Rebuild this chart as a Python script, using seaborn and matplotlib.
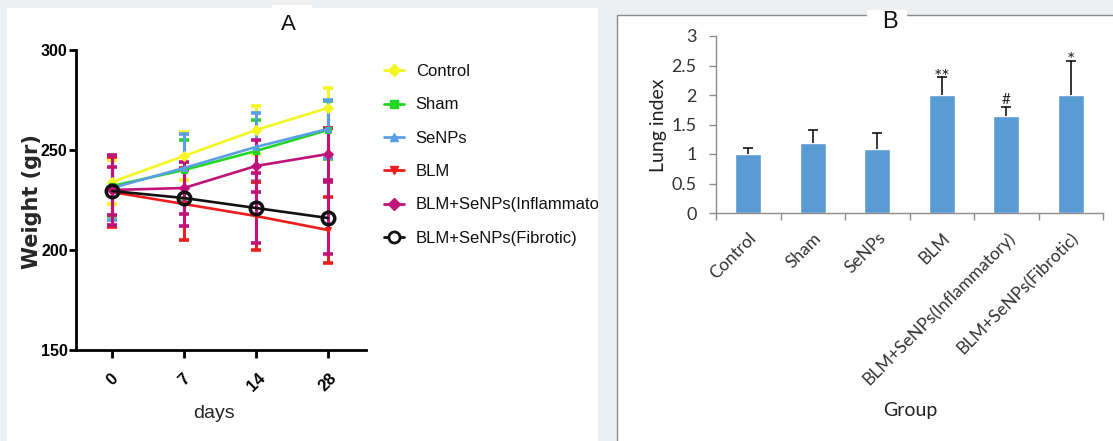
import numpy as np
import pandas as pd
import matplotlib
matplotlib.use("Agg")
import matplotlib.pyplot as plt
import seaborn as sns
from matplotlib.lines import Line2D
from matplotlib.patches import Rectangle
from matplotlib.transforms import Bbox, TransformedBbox, ScaledTranslation
from matplotlib import font_manager as fm

# ---------------- data ----------------
days = ["0", "7", "14", "28"]
groups = ["Control", "Sham", "SeNPs", "BLM",
          "BLM+SeNPs(Inflammatory)", "BLM+SeNPs(Fibrotic)"]

control_mean = [234, 247, 260, 271]
control_sd = [11, 12, 12, 10]
sham_mean = [232, 240, 249.5, 260]
sham_sd = [15, 15, 15.5, 14.5]
senps_mean = [231, 241, 251.5, 260.5]
senps_sd = [16, 17, 17, 14.5]
blm_mean = [229, 223, 217, 210]
blm_sd = [17.5, 18, 17, 16.5]
inflam_mean = [230, 231, 242, 248]
inflam_sd = [17.5, 13, 13, 13]
fibrotic_mean = [229.5, 226, 221, 216]
fibrotic_sd = [12, 14, 17.5, 18]

lung_index = [1.0, 1.19, 1.09, 2.0, 1.65, 2.0]
lung_err = [0.11, 0.21, 0.26, 0.30, 0.15, 0.58]
signif = ["", "", "", "**", "#", "*"]

# ---------------- styling ----------------
sns.set_style("white")
names = {f.name for f in fm.fontManager.ttflist}
narrow = "Liberation Sans Narrow" if "Liberation Sans Narrow" in names else "Liberation Sans"
plt.rcParams["font.family"] = ["Liberation Sans", "DejaVu Sans"]

W, H = 1113, 441
fig = plt.figure(figsize=(W / 100, H / 100), dpi=100)
fig.patch.set_facecolor("#edeff1")

def fx(px):
    return px / W

def fy(py):
    return 1 - py / H

# white panels behind the two plots
fig.add_artist(Rectangle((fx(7), 0), fx(598) - fx(7), fy(8), transform=fig.transFigure,
                         facecolor="white", edgecolor="none", zorder=-10))
fig.add_artist(Rectangle((fx(272), fy(8)), fx(40), 3 / H, transform=fig.transFigure,
                         facecolor="white", edgecolor="none", zorder=-10))
fig.add_artist(Rectangle((fx(617), -0.1), 1, fy(15) + 0.1, transform=fig.transFigure,
                         facecolor="white", edgecolor="#8c8c8c", lw=1, zorder=-10))
fig.add_artist(Rectangle((fx(867), fy(30)), fx(40), 20 / H, transform=fig.transFigure,
                         facecolor="white", edgecolor="none", zorder=-9))

# ---------------- panel A: body weight ----------------
ax1 = fig.add_axes([fx(76), fy(350), (366 - 76) / W, 300 / H])
ax1.set_facecolor("none")
pos = np.arange(len(days))

series = [
    ("Control", control_mean, control_sd, "#f5f522", "D", "#f5f522"),
    ("Sham", sham_mean, sham_sd, "#22d622", "s", "#22d622"),
    ("SeNPs", senps_mean, senps_sd, "#5a9fe6", "^", "#5a9fe6"),
    ("BLM", blm_mean, blm_sd, "#ee1c1c", "v", "#ee1c1c"),
    ("BLM+SeNPs(Inflammatory)", inflam_mean, inflam_sd, "#c0137a", "D", "#c0137a"),
    ("BLM+SeNPs(Fibrotic)", fibrotic_mean, fibrotic_sd, "#111111", "o", "#c0137a"),
]

for i, (name, m, sd, col, mk, ecol) in enumerate(series):
    ez = 2 if i < 4 else 2.6
    ax1.errorbar(pos, m, yerr=sd, fmt="none", ecolor=ecol, elinewidth=2.2,
                 capsize=3.6, capthick=2.6, zorder=ez)

for i, (name, m, sd, col, mk, ecol) in enumerate(series):
    if mk == "o":
        sns.lineplot(x=pos, y=m, color=col, marker="o", markersize=9,
                     markerfacecolor="none", markeredgecolor=col, markeredgewidth=2.5,
                     linewidth=1.9, ax=ax1, zorder=4)
    else:
        sns.lineplot(x=pos, y=m, color=col, marker=mk, markersize=5,
                     markeredgecolor=col, linewidth=1.9, ax=ax1, zorder=3)

ax1.set_xlim(-0.5, 3.53)
ax1.set_ylim(150, 300)
ax1.set_yticks([150, 200, 250, 300])
ax1.set_xticks(pos)
ax1.set_xticklabels(days, rotation=45, fontfamily=narrow, fontweight="bold", fontsize=12)
ax1.set_yticklabels(["150", "200", "250", "300"], fontfamily=narrow, fontweight="bold",
                    fontsize=11.5)
for s in ["top", "right"]:
    ax1.spines[s].set_visible(False)
for s in ["left", "bottom"]:
    ax1.spines[s].set_color("black")
    ax1.spines[s].set_linewidth(2)
ax1.tick_params(axis="y", direction="out", length=5, width=2, pad=1, colors="black", left=True)
ax1.tick_params(axis="x", direction="out", length=6, width=2, pad=9, colors="black", bottom=True)
ax1.set_ylabel("Weight (gr)", fontfamily="DejaVu Sans", fontweight="bold", fontsize=15)
ax1.yaxis.set_label_coords(-0.117, 0.495)
ax1.set_xlabel("days", fontfamily=narrow, fontsize=14)
ax1.xaxis.set_label_coords(0.476, -0.185)

handles = []
for name, m, sd, col, mk, ecol in series:
    if mk == "o":
        h = Line2D([], [], color=col, marker="o", markersize=8, markerfacecolor="white",
                   markeredgewidth=2, linewidth=2)
    else:
        h = Line2D([], [], color=col, marker=mk, markersize=6, linewidth=2)
    handles.append(h)
leg = fig.legend(handles, [s[0] for s in series], loc="upper left",
                 bbox_to_anchor=(fx(384), fy(64)), frameon=False, borderpad=0,
                 borderaxespad=0, handlelength=1.2, handletextpad=0.7, labelspacing=1.1,
                 prop={"family": narrow, "size": 12})
clip = TransformedBbox(Bbox.from_extents(0, 0, fx(598), 1), fig.transFigure)
for t in leg.get_texts():
    t.set_clip_box(clip)
    t.set_clip_on(True)
    t.set_color("#111111")

fig.text(fx(288), fy(25), "A", ha="center", va="center", fontsize=16, color="#111111")

# ---------------- panel B: lung index ----------------
ax2 = fig.add_axes([fx(716), fy(213), 387 / W, 177 / H])
ax2.set_facecolor("none")
bar_df = pd.DataFrame({"Group": groups, "Lung index": lung_index})
sns.barplot(data=bar_df, x="Group", y="Lung index", color="#5b9bd5", saturation=1,
            width=0.4, errorbar=None, ax=ax2, zorder=2)
xpos = np.arange(len(groups))
eb = ax2.errorbar(xpos, lung_index, yerr=[np.zeros(len(groups)), lung_err], fmt="none",
                  ecolor="black", elinewidth=1.1, capsize=3.5, capthick=1.1, zorder=3)
eb[1][0].remove()
for i, s in enumerate(signif):
    if s:
        off = 2 if s == "#" else -4
        size = 11 if s == "#" else 14
        ax2.annotate(s, (i, lung_index[i] + lung_err[i]), xytext=(0, off),
                     textcoords="offset points", ha="center", va="baseline",
                     fontsize=size, fontfamily="Lato", color="#222222", zorder=4)

ax2.set_xlim(-0.5, 5.5)
ax2.set_ylim(0, 3)
ax2.set_yticks([0, 0.5, 1, 1.5, 2, 2.5, 3])
ax2.set_yticklabels(["0", "0.5", "1", "1.5", "2", "2.5", "3"], fontfamily="Lato",
                    fontsize=13, color="#333333")
ax2.set_xticks(xpos)
ax2.set_xticks(np.arange(-0.5, 6, 1), minor=True)
ax2.set_xticklabels(groups, rotation=45, ha="right", va="top", rotation_mode="anchor",
                    fontfamily="Lato", fontsize=12.5, color="#333333")
shift = ScaledTranslation(0.04, 0, fig.dpi_scale_trans)
for lab in ax2.get_xticklabels():
    lab.set_transform(lab.get_transform() + shift)
for s in ["top", "right"]:
    ax2.spines[s].set_visible(False)
for s in ["left", "bottom"]:
    ax2.spines[s].set_color("#8c8c8c")
    ax2.spines[s].set_linewidth(1)
ax2.tick_params(axis="y", direction="out", length=5, width=1, color="#8c8c8c", pad=9, left=True)
ax2.tick_params(axis="x", which="major", length=0, pad=12)
ax2.tick_params(axis="x", which="minor", direction="out", length=5, width=1,
                color="#8c8c8c", bottom=True)
ax2.set_ylabel("Lung index", fontfamily="Lato", fontsize=14, color="#222222")
ax2.yaxis.set_label_coords(-0.127, 0.497)
ax2.set_xlabel("Group", fontfamily="Lato", fontsize=14, color="#222222")
ax2.xaxis.set_label_coords(0.501, -1.07)

fig.text(fx(890), fy(22), "B", ha="center", va="center", fontsize=17, color="#111111")

fig.savefig("out.png", dpi=100, facecolor=fig.get_facecolor())
